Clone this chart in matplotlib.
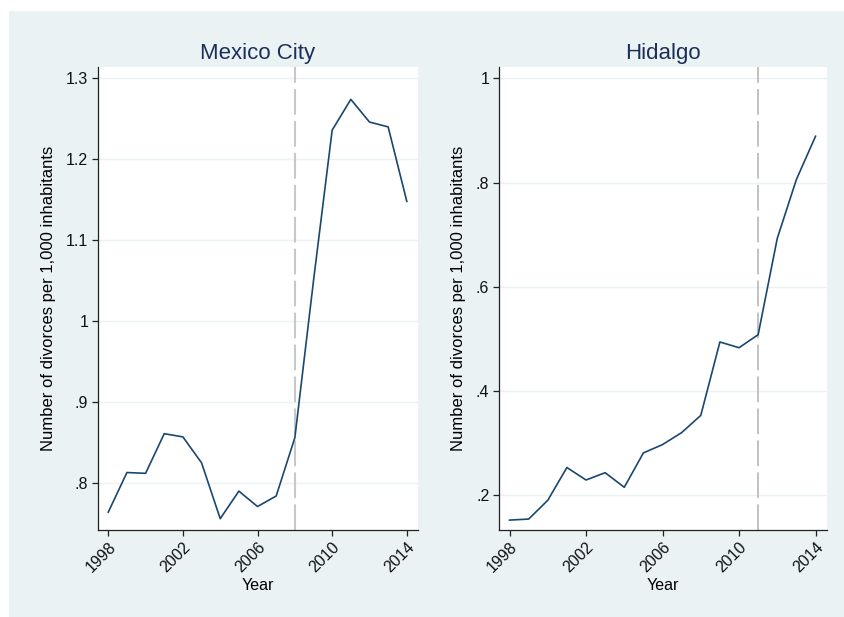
import matplotlib

matplotlib.use("Agg")
import matplotlib.pyplot as plt
from matplotlib.patches import Rectangle
from matplotlib.ticker import FixedLocator, FuncFormatter

plt.rcParams["font.family"] = ["Liberation Sans", "DejaVu Sans"]
plt.rcParams["lines.scale_dashes"] = False

years = list(range(1998, 2015))
mexico_city = [0.764, 0.813, 0.812, 0.861, 0.857, 0.825, 0.756, 0.790, 0.771,
               0.784, 0.856, 1.050, 1.236, 1.274, 1.246, 1.240, 1.148]
hidalgo = [0.152, 0.154, 0.190, 0.253, 0.229, 0.243, 0.215, 0.281, 0.297,
           0.320, 0.353, 0.494, 0.483, 0.508, 0.693, 0.806, 0.889]
panel_titles = ["Mexico City", "Hidalgo"]
reform_years = [2008, 2011]
x_ticks = [1998, 2002, 2006, 2010, 2014]
y_ticks = [[0.8, 0.9, 1.0, 1.1, 1.2, 1.3], [0.2, 0.4, 0.6, 0.8, 1.0]]
y_limits = [(0.742, 1.314), (0.133, 1.022)]

BG = "#eaf2f3"
LINE = "#1a476f"
TITLE = "#1c2f5a"
VLINE = ["#c8c8c8", "#b2b2b2"]


def stata_fmt(v, _pos):
    s = f"{v:.1f}".rstrip("0").rstrip(".")
    if s.startswith("0."):
        s = s[1:]
    return s


fig = plt.figure(figsize=(8.44, 6.17), dpi=100)
fig.patch.set_facecolor("white")
bg = Rectangle((9 / 844, 0), 1 - 9 / 844, (617 - 11) / 617,
               transform=fig.transFigure, facecolor=BG, edgecolor="none")
bg.set_zorder(-10)
fig.add_artist(bg)

positions = [[98 / 844, 87 / 617, 320 / 844, 463 / 617],
             [499 / 844, 87 / 617, 328 / 844, 463 / 617]]
series = [mexico_city, hidalgo]

for i in range(2):
    ax = fig.add_axes(positions[i])
    ax.set_facecolor("white")
    ax.plot(years, series[i], color=LINE, lw=1.2, zorder=3)
    ax.axvline(reform_years[i], color=VLINE[i], lw=1.5 if i == 0 else 1.1,
               dashes=(18.5, 4.5), zorder=2)
    ax.set_xlim(1997.45, 2014.6)
    ax.set_ylim(*y_limits[i])
    ax.yaxis.set_major_locator(FixedLocator(y_ticks[i]))
    ax.yaxis.set_major_formatter(FuncFormatter(stata_fmt))
    ax.set_xticks(x_ticks)
    ax.set_xticklabels([str(t) for t in x_ticks], rotation=45, ha="right",
                       rotation_mode="anchor")
    ax.grid(axis="y", color=BG, lw=1.0, zorder=1)
    for side in ["top", "right"]:
        ax.spines[side].set_visible(False)
    for side in ["left", "bottom"]:
        ax.spines[side].set_color("#222222")
        ax.spines[side].set_linewidth(0.9)
    ax.tick_params(direction="out", length=4.5, width=0.9, color="#222222",
                   labelsize=11.5, labelcolor="#111111", pad=2.5)
    ax.set_xlabel("Year", fontsize=11.5, labelpad=2)
    ax.set_ylabel("Number of divorces per 1,000 inhabitants", fontsize=12,
                  labelpad=7)
    ax.set_title(panel_titles[i], fontsize=16, color=TITLE, pad=6)

fig.savefig("out.png", dpi=100, facecolor=fig.get_facecolor())
plt.close(fig)
